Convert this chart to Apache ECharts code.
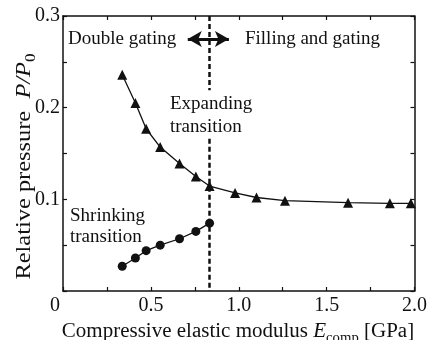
<!DOCTYPE html>
<html>
<head>
<meta charset="utf-8">
<script src="https://cdn.jsdelivr.net/npm/echarts@6/dist/echarts.min.js"></script>
<style>html,body{margin:0;padding:0;background:#fff}#c{width:430px;height:340px}</style>
</head>
<body>
<div id="c"></div>
<script>
// Data
var modulusX = [0.337, 0.412, 0.473, 0.553, 0.663, 0.756, 0.834, 0.979, 1.101, 1.263, 1.622, 1.860, 1.979];
var expandingY = [0.236, 0.205, 0.177, 0.157, 0.139, 0.125, 0.1145, 0.107, 0.102, 0.0985, 0.0963, 0.0956, 0.0956];
var shrinkingX = [0.337, 0.412, 0.473, 0.553, 0.663, 0.756, 0.834];
var shrinkingY = [0.027, 0.036, 0.044, 0.050, 0.057, 0.065, 0.074];
var boundaryX = 0.834;
var boundaryGap = [0.219, 0.166];   // gap in the dashed line behind the label
var arrowX = [0.71, 0.944];
var arrowY = 0.275;
var xTicks = [0, 0.5, 1.0, 1.5, 2.0];
var yTicks = [0.1, 0.2, 0.3];

var FONT = '"Liberation Serif", "DejaVu Serif", serif';
var INK = '#111';

function pairs(xs, ys) { return xs.map(function (x, i) { return [x, ys[i]]; }); }
function near(a, list) { return list.some(function (t) { return Math.abs(a - t) < 1e-6; }); }

var chart = echarts.init(document.getElementById('c'), null, { renderer: 'canvas' });

var axisCommon = {
  axisLine: { show: true, onZero: false, lineStyle: { color: INK, width: 1.5 } },
  axisTick: { show: true, inside: true, length: 4, lineStyle: { color: INK, width: 1.2 } },
  splitLine: { show: false }
};

function txt(s, x, y) {
  return { type: 'text', x: x, y: y, z: 10,
    style: { text: s, fill: INK, font: '19px ' + FONT, textAlign: 'left', textVerticalAlign: 'middle', align: 'left', verticalAlign: 'middle' } };
}

var titleRich = {
  i: { fontFamily: FONT, fontSize: 20, fontStyle: 'italic', fill: INK, lineHeight: 28 },
  s: { fontFamily: FONT, fontSize: 14, fill: INK, lineHeight: 14, verticalAlign: 'bottom' }
};

chart.setOption({
  animation: false,
  backgroundColor: '#fff',
  grid: { left: 63, right: 9, top: 16, bottom: 49, containLabel: false },
  xAxis: [
    Object.assign({
      type: 'value', min: 0, max: 2, interval: 0.25, position: 'bottom',
      axisLabel: {
        show: true, margin: 5, color: INK, fontFamily: FONT, fontSize: 20, showMaxLabel: true, showMinLabel: true,
        formatter: function (v) {
          if (Math.abs(v) < 1e-9) return '{z|0}';
          return near(v, xTicks) ? v.toFixed(1) : '';
        },
        rich: { z: { fontFamily: FONT, fontSize: 20, color: INK, padding: [0, 16, 0, 0] } }
      }
    }, axisCommon),
    Object.assign({
      type: 'value', min: 0, max: 2, interval: 0.25, position: 'top',
      axisLabel: { show: false }
    }, axisCommon)
  ],
  yAxis: [
    Object.assign({
      type: 'value', min: 0, max: 0.3, interval: 0.05, position: 'left',
      axisLabel: {
        show: true, margin: 3, color: INK, fontFamily: FONT, fontSize: 20, showMaxLabel: true,
        formatter: function (v) { return near(v, yTicks) ? v.toFixed(1) : ''; }
      }
    }, axisCommon),
    Object.assign({
      type: 'value', min: 0, max: 0.3, interval: 0.05, position: 'right',
      axisLabel: { show: false }
    }, axisCommon)
  ],
  series: [
    {
      name: 'Expanding', type: 'line', data: pairs(modulusX, expandingY),
      symbol: 'triangle', symbolSize: 10, showAllSymbol: true, z: 5,
      lineStyle: { color: INK, width: 1.3 },
      itemStyle: { color: INK, borderWidth: 0 }
    },
    {
      name: 'Shrinking', type: 'line', data: pairs(shrinkingX, shrinkingY),
      symbol: 'circle', symbolSize: 9, showAllSymbol: true, z: 5,
      lineStyle: { color: INK, width: 1.3 },
      itemStyle: { color: INK, borderWidth: 0 },
      markLine: {
        silent: true, animation: false, symbol: ['none', 'none'], label: { show: false },
        lineStyle: { color: INK, width: 2.5, type: [5, 3] },
        data: [
          [{ coord: [boundaryX, 0.3] }, { coord: [boundaryX, boundaryGap[0]] }],
          [{ coord: [boundaryX, boundaryGap[1]] }, { coord: [boundaryX, 0] }]
        ]
      }
    },
    {
      name: 'Arrow', type: 'line', data: [], z: 6,
      markLine: {
        silent: true, animation: false, symbol: ['arrow', 'arrow'], symbolSize: [12, 14],
        label: { show: false },
        lineStyle: { color: INK, width: 3, type: 'solid' },
        data: [[{ coord: [arrowX[0], arrowY] }, { coord: [arrowX[1], arrowY] }]]
      }
    }
  ],
  graphic: [
    txt('Double gating', 68, 39.5),
    txt('Filling and gating', 245, 39.5),
    txt('Expanding', 170, 104.5),
    txt('transition', 170, 127.5),
    txt('Shrinking', 70, 216.5),
    txt('transition', 70, 237),
    { type: 'text', x: 238, y: 331.5, z: 10, scaleX: 1.05, scaleY: 1,
      style: {
        text: 'Compressive elastic modulus {i|E}{s|comp} [GPa]',
        fill: INK, font: '20px ' + FONT, fontFamily: FONT, fontSize: 20, lineHeight: 28,
        textAlign: 'center', textVerticalAlign: 'middle', align: 'center', verticalAlign: 'middle',
        rich: titleRich
      } },
    { type: 'text', x: 24.5, y: 166.5, z: 10, rotation: Math.PI / 2, scaleX: 1.22, scaleY: 1,
      style: {
        text: 'Relative pressure  {i|P/P}{s|0}',
        fill: INK, font: '20px ' + FONT, fontFamily: FONT, fontSize: 20, lineHeight: 28,
        textAlign: 'center', textVerticalAlign: 'middle', align: 'center', verticalAlign: 'middle',
        rich: titleRich
      } }
  ]
});
</script>
</body>
</html>
